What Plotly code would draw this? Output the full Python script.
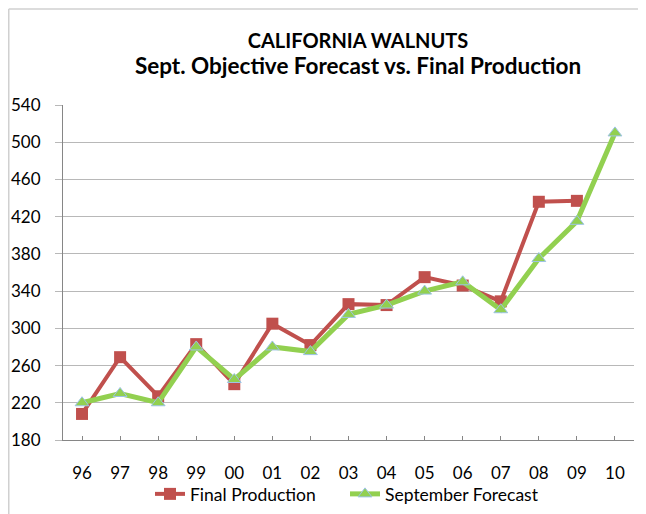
import plotly.graph_objects as go

years = ["96", "97", "98", "99", "00", "01", "02", "03", "04", "05", "06", "07", "08", "09", "10"]
final_production = [208, 269, 227, 283, 240, 305, 282, 326, 325, 355, 346, 329, 436, 437, None]
september_forecast = [220, 230, 220, 280, 245, 280, 275, 315, 325, 340, 350, 320, 375, 415, 510]
y_ticks = [180, 220, 260, 300, 340, 380, 420, 460, 500, 540]

FONT = "Lato, 'Open Sans', sans-serif"
xs = list(range(len(years)))

fig = go.Figure()
fig.add_trace(go.Scatter(
    x=xs, y=final_production, name="Final Production", mode="lines+markers",
    line=dict(color="#C0504D", width=4),
    marker=dict(symbol="square", size=12, color="#C0504D", line=dict(width=0)),
    connectgaps=False,
))
fig.add_trace(go.Scatter(
    x=xs, y=september_forecast, name="September Forecast", mode="lines+markers",
    line=dict(color="#92D050", width=5),
    marker=dict(symbol="triangle-up", size=12, color="#92D050", line=dict(width=1, color="#9DC3E6")),
))

# The page body adds an 8px offset; the figure is sized to fill the rest of the window.
OFF = 8
W, H = 646 - OFF, 514 - OFF
L, R, T, B = 63 - OFF, 12, 105 - OFF, 74
pw, ph = W - L - R, H - T - B

def px_x(p):  # page pixel -> paper x
    return (p - OFF - L) / pw

def px_y(p):  # page pixel -> paper y
    return (H - B - (p - OFF)) / ph

fig.update_layout(
    width=W, height=H,
    margin=dict(l=L, r=R, t=T, b=B, autoexpand=False),
    paper_bgcolor="white", plot_bgcolor="white",
    font=dict(family=FONT, size=17, color="black"),
    title=dict(
        text=("<b>CALIFORNIA WALNUTS</b><br>"
              "<span style='font-size:22.5px'><b>Sept. Objective Forecast vs. Final Production</b></span>"),
        x=(358 - OFF) / W, xanchor="center", xref="container",
        y=1 - (48 - OFF) / H, yanchor="top", yref="container",
        font=dict(family=FONT, size=20, color="black"),
    ),
    showlegend=True,
    legend=dict(
        orientation="h", x=px_x(345), xanchor="center", y=px_y(494), yanchor="middle",
        font=dict(family=FONT, size=17.5, color="black"),
        bgcolor="rgba(0,0,0,0)", itemwidth=30, tracegroupgap=0,
        entrywidth=150, entrywidthmode="pixels",
    ),
    xaxis=dict(
        range=[-0.5, len(years) - 0.5],
        tickmode="array", tickvals=xs, ticktext=years,
        showgrid=False, zeroline=False,
        showline=True, linecolor="#868686", linewidth=1,
        ticks="inside", ticklen=4, tickcolor="#868686",
        ticklabelstandoff=18,
        tickfont=dict(family=FONT, size=17, color="black"),
        fixedrange=True,
    ),
    yaxis=dict(
        range=[180, 540],
        tickmode="array", tickvals=y_ticks,
        showgrid=True, gridcolor="#B8B8B8", gridwidth=1,
        zeroline=False,
        showline=True, linecolor="#868686", linewidth=1,
        ticks="outside", ticklen=7, tickcolor="#B8B8B8",
        ticklabelstandoff=11,
        tickfont=dict(family=FONT, size=17, color="black"),
        fixedrange=True,
    ),
)

# outer chart border (left and top edges visible in frame)
fig.add_shape(type="line", xref="paper", yref="paper",
              x0=px_x(OFF + 0.75), x1=px_x(OFF + 0.75), y0=px_y(520), y1=px_y(9),
              line=dict(color="#D0D0D0", width=1.5))
fig.add_shape(type="line", xref="paper", yref="paper",
              x0=px_x(OFF + 0.75), x1=px_x(660), y0=px_y(9), y1=px_y(9),
              line=dict(color="#D0D0D0", width=1.5))

fig.write_html("out.html")
